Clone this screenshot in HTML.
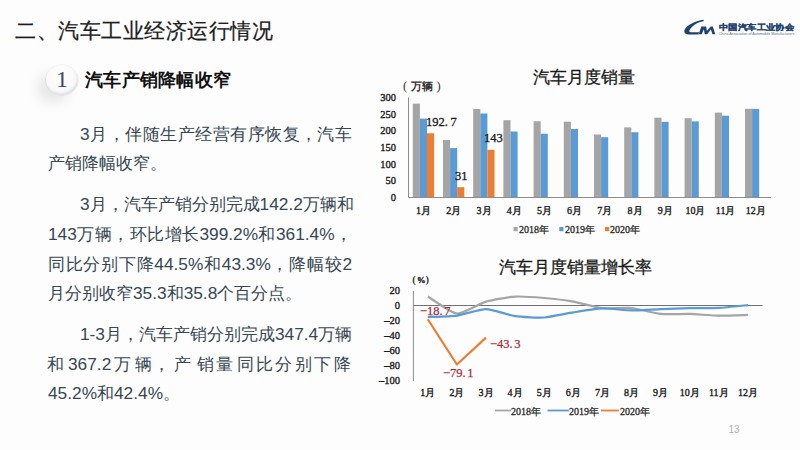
<!DOCTYPE html>
<html><head><meta charset="utf-8">
<style>
html,body{margin:0;padding:0;}
body{width:800px;height:450px;overflow:hidden;background:#fdfdfd;position:relative;font-family:"Liberation Sans",sans-serif;}
.abs{position:absolute;white-space:nowrap;}
#title{left:15px;top:17px;font-size:21px;letter-spacing:0.5px;-webkit-text-stroke:0.25px #1e1e1e;line-height:28px;color:#1e1e1e;}
#circle{left:45.6px;top:65.3px;width:32.4px;height:30px;border-radius:50%;
  background:radial-gradient(circle at 45% 40%,#ffffff 0%,#fafafb 50%,#eceef2 85%,#dcdee4 100%);
  box-shadow:-9px 8px 13px rgba(0,0,0,0.09), 0 0 0 0.6px rgba(0,0,0,0.09), inset -1px -2px 2px rgba(0,0,0,0.07);}
#one{left:46px;top:64px;width:32px;height:31px;text-align:center;font-family:"Liberation Serif",serif;font-size:24px;line-height:31px;color:#3b4a66;}
#h1{left:85px;top:68px;font-size:18px;letter-spacing:0.25px;line-height:24px;font-weight:bold;color:#111;}
.ln{position:absolute;left:48px;width:304px;font-size:17.3px;line-height:24px;color:#364753;white-space:nowrap;}
.j{text-align:justify;text-align-last:justify;}
svg text{font-family:"Liberation Serif",serif;}
.yl{font-size:10.5px;fill:#1a1a1a;stroke:#1a1a1a;stroke-width:0.35px;}
.ml{font-size:10px;fill:#1a1a1a;stroke:#1a1a1a;stroke-width:0.35px;}
.t1{font-size:16.8px;letter-spacing:0px;fill:#1a1a1a;stroke:#1a1a1a;stroke-width:0.3px;}
.unit{font-size:10px;font-weight:bold;fill:#333;}
.dl{font-size:12.5px;fill:#1a1a1a;stroke:#1a1a1a;stroke-width:0.3px;}
.rl{font-size:12.5px;fill:#a82a3a;stroke:#a82a3a;stroke-width:0.25px;}
.lg{font-size:10px;fill:#2a2a2a;stroke:#2a2a2a;stroke-width:0.3px;}
.pn{font-family:"Liberation Sans",sans-serif;font-size:10px;fill:#b0b0b0;}
.lt{font-family:"Liberation Sans",sans-serif;font-size:9px;letter-spacing:0.8px;font-weight:bold;fill:#1d4270;stroke:#1d4270;stroke-width:0.25px;}
.le{font-family:"Liberation Sans",sans-serif;font-size:3.6px;fill:#5a6f8a;}
</style></head>
<body>
<div id="title" class="abs">二、汽车工业经济运行情况</div>
<div id="circle" class="abs"></div>
<div id="one" class="abs">1</div>
<div id="h1" class="abs">汽车产销降幅收窄</div>

<div class="ln j" style="top:122px;padding-left:32px;width:272px;">3月，伴随生产经营有序恢复，汽车</div>
<div class="ln" style="top:151px;">产销降幅收窄。</div>

<div class="ln j" style="top:192px;padding-left:32px;width:272px;">3月，汽车产销分别完成142.2万辆和</div>
<div class="ln j" style="top:222px;">143万辆，环比增长399.2%和361.4%，</div>
<div class="ln j" style="top:252px;">同比分别下降44.5%和43.3%，降幅较2</div>
<div class="ln" style="top:281px;">月分别收窄35.3和35.8个百分点。</div>

<div class="ln j" style="top:322px;padding-left:32px;width:272px;">1-3月，汽车产销分别完成347.4万辆</div>
<div class="ln" style="top:352px;left:0;width:400px;height:24px;"><span style="position:absolute;left:47px">和</span><span style="position:absolute;left:68px">367.2</span><span style="position:absolute;left:114px">万</span><span style="position:absolute;left:135px">辆</span><span style="position:absolute;left:153px">，</span><span style="position:absolute;left:174px">产</span><span style="position:absolute;left:197px">销</span><span style="position:absolute;left:216px">量</span><span style="position:absolute;left:237px">同</span><span style="position:absolute;left:256px">比</span><span style="position:absolute;left:275px">分</span><span style="position:absolute;left:295px">别</span><span style="position:absolute;left:314px">下</span><span style="position:absolute;left:334px">降</span></div>
<div class="ln" style="top:381px;">45.2%和42.4%。</div>

<svg class="abs" style="left:0;top:0" width="800" height="450" viewBox="0 0 800 450">
<line x1="408.5" y1="97.5" x2="408.5" y2="197.5" stroke="#8c8c8c" stroke-width="1"/>
<rect x="412.80" y="103.63" width="7.1" height="93.87" fill="#a5a5a5"/>
<rect x="419.90" y="118.60" width="7.1" height="78.90" fill="#5b9bd5"/>
<rect x="427.00" y="133.27" width="7.1" height="64.23" fill="#ed7d31"/>
<rect x="443.00" y="140.00" width="7.1" height="57.50" fill="#a5a5a5"/>
<rect x="450.10" y="148.10" width="7.1" height="49.40" fill="#5b9bd5"/>
<rect x="457.20" y="187.17" width="7.1" height="10.33" fill="#ed7d31"/>
<rect x="473.20" y="108.97" width="7.1" height="88.53" fill="#a5a5a5"/>
<rect x="480.30" y="113.50" width="7.1" height="84.00" fill="#5b9bd5"/>
<rect x="487.40" y="149.83" width="7.1" height="47.67" fill="#ed7d31"/>
<rect x="503.40" y="120.20" width="7.1" height="77.30" fill="#a5a5a5"/>
<rect x="510.50" y="131.50" width="7.1" height="66.00" fill="#5b9bd5"/>
<rect x="533.60" y="121.23" width="7.1" height="76.27" fill="#a5a5a5"/>
<rect x="540.70" y="133.73" width="7.1" height="63.77" fill="#5b9bd5"/>
<rect x="563.80" y="121.70" width="7.1" height="75.80" fill="#a5a5a5"/>
<rect x="570.90" y="128.97" width="7.1" height="68.53" fill="#5b9bd5"/>
<rect x="594.00" y="134.53" width="7.1" height="62.97" fill="#a5a5a5"/>
<rect x="601.10" y="137.23" width="7.1" height="60.27" fill="#5b9bd5"/>
<rect x="624.20" y="127.40" width="7.1" height="70.10" fill="#a5a5a5"/>
<rect x="631.30" y="132.23" width="7.1" height="65.27" fill="#5b9bd5"/>
<rect x="654.40" y="117.70" width="7.1" height="79.80" fill="#a5a5a5"/>
<rect x="661.50" y="121.80" width="7.1" height="75.70" fill="#5b9bd5"/>
<rect x="684.60" y="118.17" width="7.1" height="79.33" fill="#a5a5a5"/>
<rect x="691.70" y="121.37" width="7.1" height="76.13" fill="#5b9bd5"/>
<rect x="714.80" y="112.57" width="7.1" height="84.93" fill="#a5a5a5"/>
<rect x="721.90" y="115.70" width="7.1" height="81.80" fill="#5b9bd5"/>
<rect x="745.00" y="108.80" width="7.1" height="88.70" fill="#a5a5a5"/>
<rect x="752.10" y="108.93" width="7.1" height="88.57" fill="#5b9bd5"/>
<line x1="408.5" y1="197.5" x2="770.9" y2="197.5" stroke="#8c8c8c" stroke-width="1"/>
<text x="396" y="201.0" class="yl" text-anchor="end">0</text>
<text x="396" y="184.3" class="yl" text-anchor="end">50</text>
<text x="396" y="167.7" class="yl" text-anchor="end">100</text>
<text x="396" y="151.0" class="yl" text-anchor="end">150</text>
<text x="396" y="134.3" class="yl" text-anchor="end">200</text>
<text x="396" y="117.7" class="yl" text-anchor="end">250</text>
<text x="396" y="101.0" class="yl" text-anchor="end">300</text>
<text x="423.6" y="213.5" class="ml" text-anchor="middle">1月</text>
<text x="453.8" y="213.5" class="ml" text-anchor="middle">2月</text>
<text x="484.0" y="213.5" class="ml" text-anchor="middle">3月</text>
<text x="514.2" y="213.5" class="ml" text-anchor="middle">4月</text>
<text x="544.4" y="213.5" class="ml" text-anchor="middle">5月</text>
<text x="574.6" y="213.5" class="ml" text-anchor="middle">6月</text>
<text x="604.8" y="213.5" class="ml" text-anchor="middle">7月</text>
<text x="635.0" y="213.5" class="ml" text-anchor="middle">8月</text>
<text x="665.2" y="213.5" class="ml" text-anchor="middle">9月</text>
<text x="695.4" y="213.5" class="ml" text-anchor="middle">10月</text>
<text x="725.6" y="213.5" class="ml" text-anchor="middle">11月</text>
<text x="755.8" y="213.5" class="ml" text-anchor="middle">12月</text>
<line x1="413.4" y1="291" x2="413.4" y2="381" stroke="#8c8c8c" stroke-width="1"/>
<line x1="413.4" y1="305.5" x2="762.6" y2="305.5" stroke="#707070" stroke-width="1"/>
<text x="400" y="293.7" class="yl" text-anchor="end">20</text>
<text x="400" y="308.7" class="yl" text-anchor="end">0</text>
<text x="400" y="323.7" class="yl" text-anchor="end">–20</text>
<text x="400" y="338.7" class="yl" text-anchor="end">–40</text>
<text x="400" y="353.7" class="yl" text-anchor="end">–60</text>
<text x="400" y="368.7" class="yl" text-anchor="end">–80</text>
<text x="400" y="383.7" class="yl" text-anchor="end">–100</text>
<text x="427.8" y="396" class="ml" text-anchor="middle">1月</text>
<text x="456.9" y="396" class="ml" text-anchor="middle">2月</text>
<text x="486.0" y="396" class="ml" text-anchor="middle">3月</text>
<text x="515.1" y="396" class="ml" text-anchor="middle">4月</text>
<text x="544.2" y="396" class="ml" text-anchor="middle">5月</text>
<text x="573.3" y="396" class="ml" text-anchor="middle">6月</text>
<text x="602.4" y="396" class="ml" text-anchor="middle">7月</text>
<text x="631.5" y="396" class="ml" text-anchor="middle">8月</text>
<text x="660.6" y="396" class="ml" text-anchor="middle">9月</text>
<text x="689.7" y="396" class="ml" text-anchor="middle">10月</text>
<text x="718.8" y="396" class="ml" text-anchor="middle">11月</text>
<text x="747.9" y="396" class="ml" text-anchor="middle">12月</text>
<path d="M427.80,296.50 C430.71,298.20 451.08,313.01 456.90,313.52 C462.72,314.04 480.18,303.37 486.00,301.68 C491.82,299.98 509.28,296.94 515.10,296.57 C520.92,296.21 538.38,297.50 544.20,298.00 C550.02,298.50 567.48,300.58 573.30,301.60 C579.12,302.62 596.58,307.56 602.40,308.20 C608.22,308.84 625.68,307.48 631.50,308.05 C637.32,308.62 654.78,313.31 660.60,313.90 C666.42,314.49 683.88,313.80 689.70,313.97 C695.52,314.15 712.98,315.53 718.80,315.62 C724.62,315.72 744.99,315.02 747.90,314.95" fill="none" stroke="#a5a5a5" stroke-width="2.2" stroke-linejoin="round"/>
<path d="M427.80,317.05 C430.71,316.90 451.08,316.35 456.90,315.55 C462.72,314.75 480.18,309.04 486.00,309.10 C491.82,309.16 509.28,315.31 515.10,316.15 C520.92,316.99 538.38,317.88 544.20,317.50 C550.02,317.12 567.48,313.31 573.30,312.40 C579.12,311.49 596.58,308.63 602.40,308.43 C608.22,308.22 625.68,310.31 631.50,310.38 C637.32,310.44 654.78,309.32 660.60,309.10 C666.42,308.88 683.88,308.32 689.70,308.20 C695.52,308.08 712.98,308.21 718.80,307.90 C724.62,307.59 744.99,305.40 747.90,305.12" fill="none" stroke="#5b9bd5" stroke-width="2.2" stroke-linejoin="round"/>
<path d="M427.80,319.22 L456.90,364.52 L486.00,337.67" fill="none" stroke="#ed7d31" stroke-width="2.2" stroke-linejoin="round"/>
<text x="533" y="83" class="t1">汽车月度销量</text>
<text y="90" class="unit" style="font-size:11px"><tspan x="403" style="font-size:12.5px;font-weight:normal" dy="0">(</tspan><tspan x="410.5">万辆</tspan><tspan x="436.5" style="font-size:12.5px;font-weight:normal">)</tspan></text>
<text x="426" y="125.5" class="dl">192.<tspan dx="2.5">7</tspan></text>
<text x="455" y="180" class="dl">31</text>
<text x="484" y="141.5" class="dl">143</text>
<rect x="513.5" y="227" width="4.2" height="4.2" fill="#a5a5a5"/>
<text x="519" y="232.5" class="lg">2018年</text>
<rect x="559.3" y="227" width="4.2" height="4.2" fill="#5b9bd5"/>
<text x="565" y="232.5" class="lg">2019年</text>
<rect x="605" y="227" width="4.2" height="4.2" fill="#ed7d31"/>
<text x="610" y="232.5" class="lg">2020年</text>
<text x="499" y="273" class="t1">汽车月度销量增长率</text>
<text y="283" class="unit" style="font-size:10.5px"><tspan x="412.3">(</tspan><tspan x="417" style="font-size:8.5px;stroke:#222;stroke-width:0.4px">%</tspan><tspan x="425.5">)</tspan></text>
<text x="420" y="314.5" class="rl">−18.<tspan dx="1.5">7</tspan></text>
<text x="443" y="377" class="rl">−79.<tspan dx="1.5">1</tspan></text>
<text x="490" y="347.5" class="rl">−43.<tspan dx="1.5">3</tspan></text>
<line x1="495" y1="410.5" x2="511" y2="410.5" stroke="#a5a5a5" stroke-width="1.8"/>
<text x="511" y="414.5" class="lg">2018年</text>
<line x1="547.5" y1="410.5" x2="569" y2="410.5" stroke="#5b9bd5" stroke-width="1.8"/>
<text x="569" y="414.5" class="lg">2019年</text>
<line x1="601" y1="410.5" x2="619" y2="410.5" stroke="#ed7d31" stroke-width="1.8"/>
<text x="620" y="414.5" class="lg">2020年</text>
<text x="728.5" y="432.5" class="pn">13</text>
<!-- logo -->
<path d="M703.5,19.8 C696,20.8 687.5,24.5 684.6,29.8 C683.6,32.3 685,34.4 688.5,34.4 L698.4,34.4 L699.1,32.2 L691,32.2 C689.2,32.2 688.8,31 689.8,29.5 C692.8,25.2 698,22 703.3,21.2 C703.8,21 704,20 703.5,19.8 Z" fill="#1d4270"/>
<path d="M698.6,34.2 L701.4,26.4 L706.1,26.4 L706.9,30.8 L710.8,26.4 L712.8,26.4 L715.3,34.2 L712.5,34.2 L710.8,29.4 L707.2,34.2 L704.7,34.2 L703.9,29.2 L701.7,34.2 Z" fill="#1d4270"/>
<text transform="translate(719,29.6) scale(1,0.86)" x="0" y="0" class="lt">中国汽车工业协会</text>
<text x="719" y="35.3" class="le">China Association of Automobile Manufacturers</text>

</svg>
</body></html>
